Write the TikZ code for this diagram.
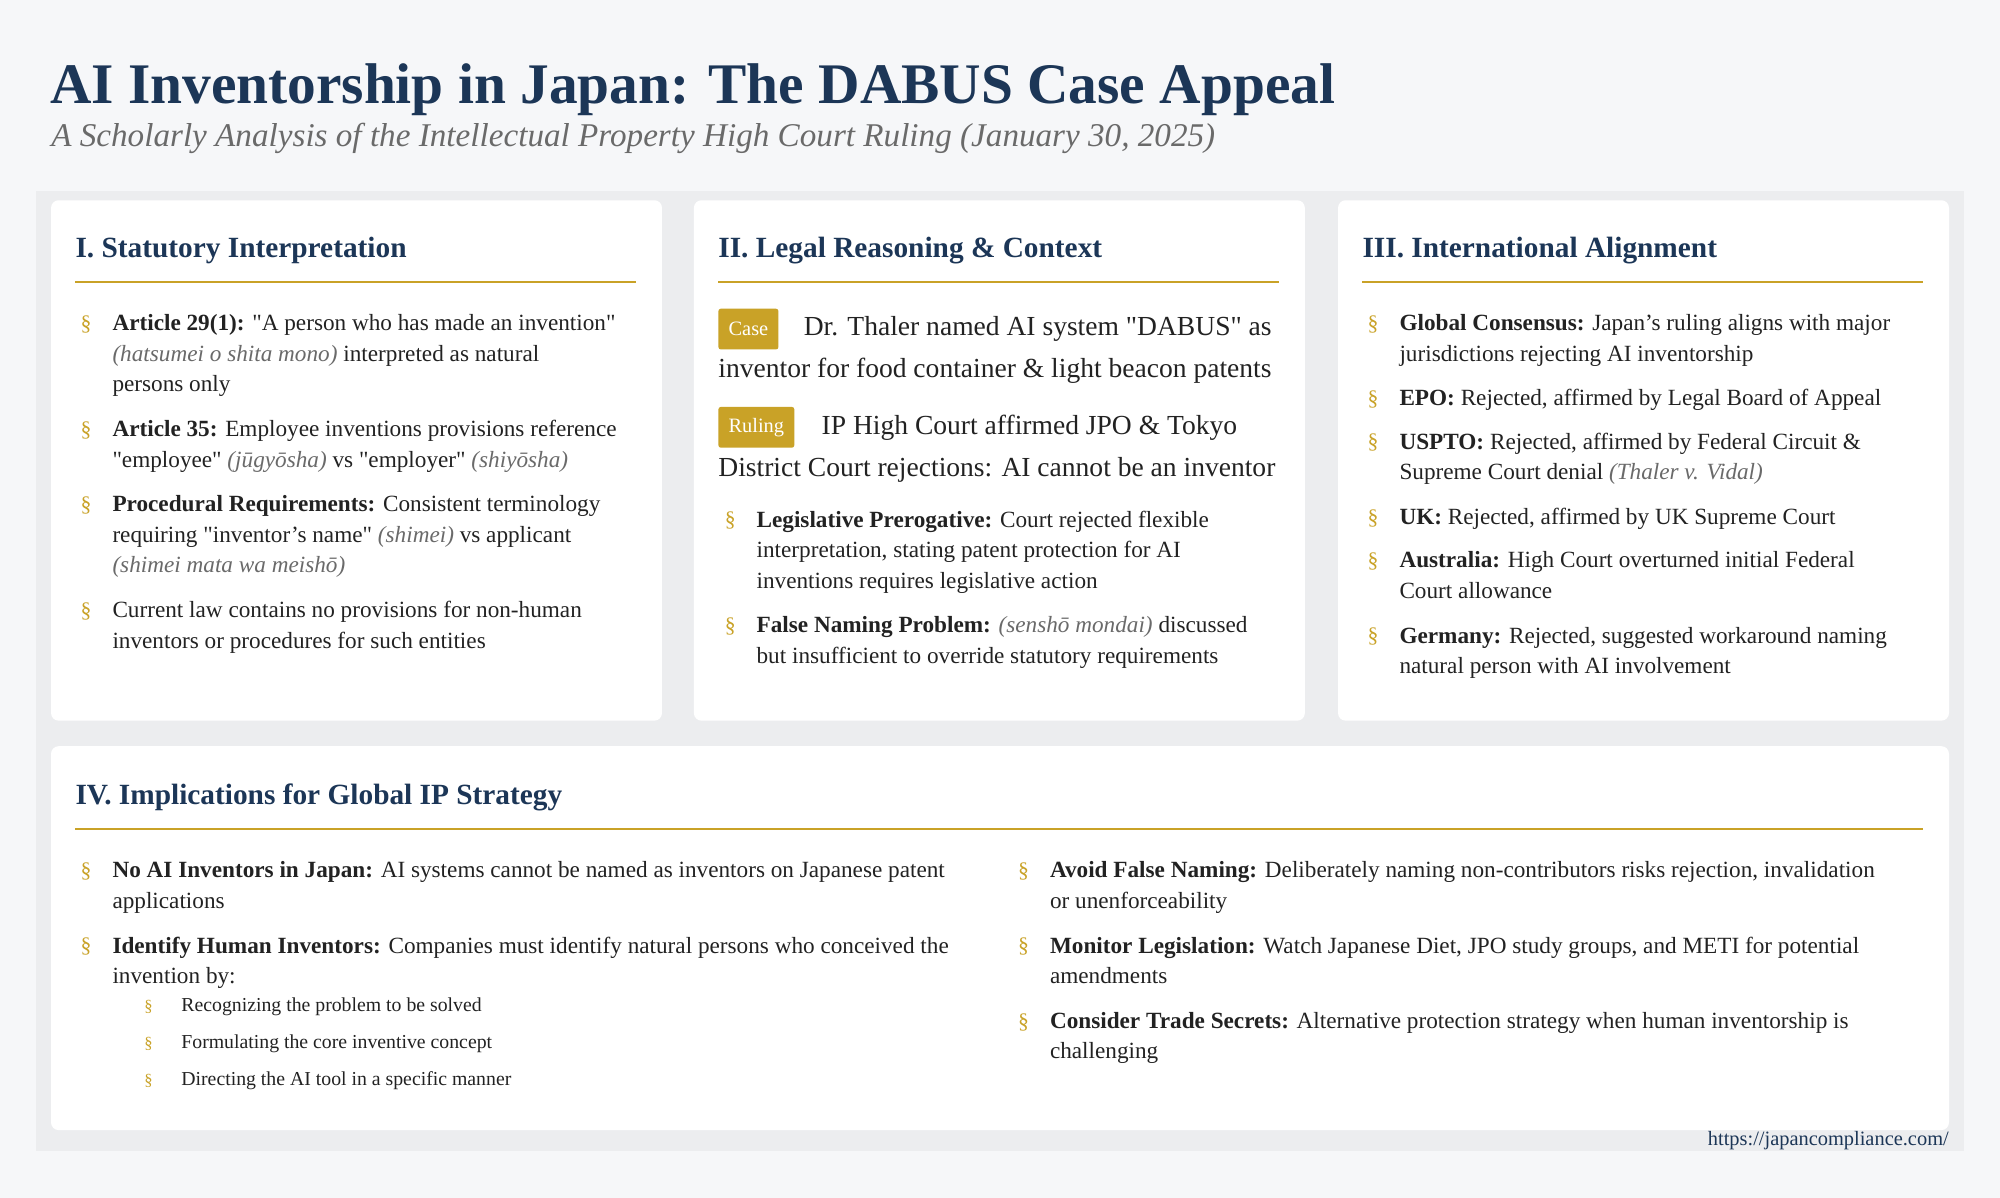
\documentclass[tikz,border=0pt]{standalone}
\usepackage{fontspec}
\setmainfont{Liberation Serif}
\definecolor{navy}{HTML}{1C3657}
\definecolor{gold}{HTML}{C9A227}
\definecolor{pagebg}{HTML}{F6F7F9}
\definecolor{panel}{HTML}{ECEDEF}
\definecolor{txt}{HTML}{222222}
\definecolor{term}{HTML}{6A6A6A}
\newcommand{\tm}[1]{{\color{term}\itshape #1}}
\newcommand{\q}{\textquotedbl}
\tikzset{
 card/.style={fill=white,rounded corners=6pt,draw=none},
 head/.style={anchor=base west,inner sep=0,font=\fontsize{23}{26}\selectfont\bfseries,text=navy},
 sect/.style={anchor=base west,inner sep=0,font=\fontsize{17}{24}\selectfont,text=gold},
 body/.style={anchor=north west,inner sep=0,align=left,font=\fontsize{18.2}{24}\selectfont,text=txt},
 small/.style={anchor=base west,inner sep=0,font=\fontsize{15.5}{20}\selectfont,text=txt},
 ssect/.style={anchor=base west,inner sep=0,font=\fontsize{13}{20}\selectfont,text=gold},
 badge/.style={fill=gold,text=white,rounded corners=2pt,font=\fontsize{16}{18}\selectfont,minimum height=32pt,inner xsep=8pt,anchor=west},
 big/.style={anchor=north west,inner sep=0,align=left,font=\fontsize{21.6}{33}\selectfont,text=txt},
 rule/.style={gold,line width=1.5pt}
}
\newcommand{\bl}[4]{\node[sect] (#1s) at (#2-25,#3) {\S};\node[body] (#1) at (#2,#3-16.8) {\strut #4};}
\begin{document}
\begin{tikzpicture}[x=1pt,y=-1pt]
\useasboundingbox[fill=pagebg] (0,0) rectangle (1568,939);
\fill[panel] (28,150) rectangle (1540,902);
\node[anchor=base west,inner sep=0,font=\fontsize{45}{50}\selectfont\bfseries,text=navy] (title) at (39,81) {AI Inventorship in Japan: The DABUS Case Appeal};
\node[anchor=base west,inner sep=0,font=\fontsize{26}{28}\selectfont\itshape,text=term] (sub) at (40,115) {A Scholarly Analysis of the Intellectual Property High Court Ruling (January 30, 2025)};
% cards
\fill[card] (40,157) rectangle (519,565);
\fill[card] (544,157) rectangle (1023,565);
\fill[card] (1049,157) rectangle (1528,565);
\fill[card] (40,585) rectangle (1528,886);
% card 1
\node[head] (h1) at (59,202) {I. Statutory Interpretation};
\draw[rule] (59,221) -- (499,221);
\bl{a1}{88}{259}{\textbf{Article 29(1):} \q A person who has made an invention\q\\\tm{(hatsumei o shita mono)} interpreted as natural\\persons only}
\bl{a2}{88}{342}{\textbf{Article 35:} Employee inventions provisions reference\\\q employee\q\ \tm{(jūgyōsha)} vs \q employer\q\ \tm{(shiyōsha)}}
\bl{a3}{88}{401}{\textbf{Procedural Requirements:} Consistent terminology\\requiring \q inventor's name\q\ \tm{(shimei)} vs applicant\\\tm{(shimei mata wa meishō)}}
\bl{a4}{88}{484}{Current law contains no provisions for non-human\\inventors or procedures for such entities}
% card 2
\node[head] (h2) at (563,202) {II. Legal Reasoning \& Context};
\draw[rule] (563,221) -- (1003,221);
\node[badge] (case) at (563,258) {Case};
\node[big] (ct) at (563,240) {\strut\hspace{67pt}Dr. Thaler named AI system \q DABUS\q\ as\\inventor for food container \& light beacon patents};
\node[badge] (rul) at (563,335) {Ruling};
\node[big] (rt) at (563,317) {\strut\hspace{81pt}IP High Court affirmed JPO \& Tokyo\\District Court rejections: AI cannot be an inventor};
\bl{b1}{593}{413}{\textbf{Legislative Prerogative:} Court rejected flexible\\interpretation, stating patent protection for AI\\inventions requires legislative action}
\bl{b2}{593}{496}{\textbf{False Naming Problem:} \tm{(senshō mondai)} discussed\\but insufficient to override statutory requirements}
% card 3
\node[head] (h3) at (1068,202) {III. International Alignment};
\draw[rule] (1068,221) -- (1508,221);
\bl{c1}{1097}{259}{\textbf{Global Consensus:} Japan's ruling aligns with major\\jurisdictions rejecting AI inventorship}
\bl{c2}{1097}{318}{\textbf{EPO:} Rejected, affirmed by Legal Board of Appeal}
\bl{c3}{1097}{352}{\textbf{USPTO:} Rejected, affirmed by Federal Circuit \&\\Supreme Court denial \tm{(Thaler v. Vidal)}}
\bl{c4}{1097}{411}{\textbf{UK:} Rejected, affirmed by UK Supreme Court}
\bl{c5}{1097}{445}{\textbf{Australia:} High Court overturned initial Federal\\Court allowance}
\bl{c6}{1097}{504}{\textbf{Germany:} Rejected, suggested workaround naming\\natural person with AI involvement}
% card 4
\node[head] (h4) at (59,631) {IV. Implications for Global IP Strategy};
\draw[rule] (59,650) -- (1508,650);
\bl{d1}{88}{688}{\textbf{No AI Inventors in Japan:} AI systems cannot be named as inventors on Japanese patent\\applications}
\bl{d2}{88}{747}{\textbf{Identify Human Inventors:} Companies must identify natural persons who conceived the\\invention by:}
\node[ssect] (e1s) at (113,793) {\S}; \node[small] (e1) at (142,793) {Recognizing the problem to be solved};
\node[ssect] (e2s) at (113,822) {\S}; \node[small] (e2) at (142,822) {Formulating the core inventive concept};
\node[ssect] (e3s) at (113,851) {\S}; \node[small] (e3) at (142,851) {Directing the AI tool in a specific manner};
\bl{f1}{823}{688}{\textbf{Avoid False Naming:} Deliberately naming non-contributors risks rejection, invalidation\\or unenforceability}
\bl{f2}{823}{747}{\textbf{Monitor Legislation:} Watch Japanese Diet, JPO study groups, and METI for potential\\amendments}
\bl{f3}{823}{806}{\textbf{Consider Trade Secrets:} Alternative protection strategy when human inventorship is\\challenging}
\node[anchor=base east,inner sep=0,font=\fontsize{16}{18}\selectfont,text=navy] (url) at (1528,898) {https://japancompliance.com/};
\end{tikzpicture}
\end{document}
